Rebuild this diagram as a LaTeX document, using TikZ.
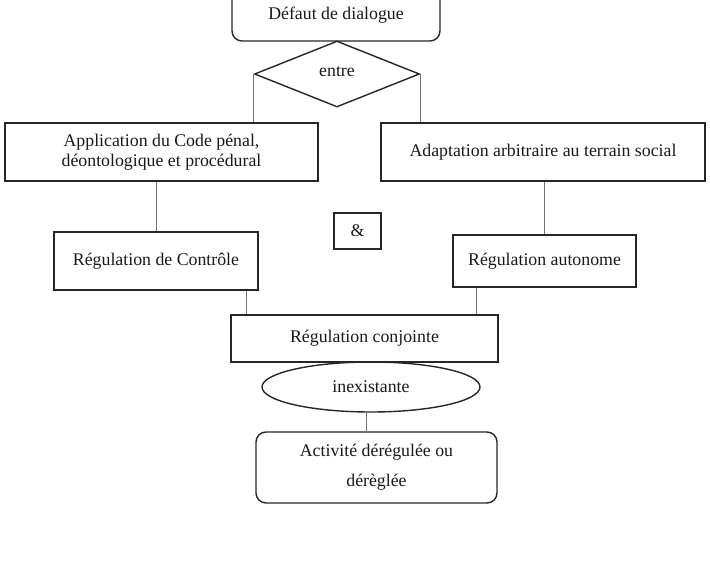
\documentclass[tikz,border=0pt]{standalone}
\usepackage{fontspec}
\setmainfont{Liberation Serif}
\usetikzlibrary{shapes.geometric}
\begin{document}
\begin{tikzpicture}[x=1pt,y=-1pt,
  every node/.style={font=\fontsize{17.8}{20}\selectfont, inner sep=0pt, text=black!90},
  box/.style={draw=black!85, line width=1.4pt, rectangle, align=center},
  rbox/.style={box, rounded corners=10pt},
  link/.style={draw=black!55, line width=1pt}
]
\useasboundingbox (0,0) rectangle (710,576);
\node[rbox, minimum width=208pt, minimum height=51pt] (top) at (336,15.5) {};
\node at (336,15) {Défaut de dialogue};
\node[draw=black!85, line width=1.4pt, diamond, aspect=2.5, minimum width=165pt, minimum height=66pt] (d) at (337,74) {};
\node at (337,72) {entre};
\node[box, minimum width=313pt, minimum height=58pt] (app) at (161.5,152) {Application du Code pénal,\\déontologique et procédural};
\node[box, minimum width=324pt, minimum height=58pt] (adapt) at (543,152) {Adaptation arbitraire au terrain social};
\node[box, minimum width=204pt, minimum height=58pt] (rc) at (156,261) {Régulation de Contrôle};
\node[box, minimum width=47pt, minimum height=36pt] (amp) at (357.5,231) {\&};
\node[box, minimum width=183pt, minimum height=52pt] (ra) at (544.5,261) {Régulation autonome};
\node[box, minimum width=267pt, minimum height=47pt] (conj) at (364.5,338.5) {Régulation conjointe};
\node[draw=black!85, line width=1.4pt, ellipse, minimum width=218pt, minimum height=50pt] (ell) at (371,387) {inexistante};
\node[rbox, minimum width=241pt, minimum height=71pt, font=\fontsize{17.8}{30}\selectfont] (act) at (376.5,467.5) {Activité dérégulée ou\\dérèglée};
\draw[link] (d.west) -- (d.west |- app.north);
\draw[link] (d.east) -- (d.east |- adapt.north);
\draw[link] (rc.north) -- (rc.north |- app.south);
\draw[link] (ra.north) -- (ra.north |- adapt.south);
\draw[link] ([xshift=-12pt]rc.south east) -- ([xshift=-12pt]rc.south east |- conj.north);
\draw[link] ([xshift=24pt]ra.south west) -- ([xshift=24pt]ra.south west |- conj.north);
\draw[link] ([xshift=-5pt]ell.south) -- ([xshift=-5pt]ell.south |- act.north);
\end{tikzpicture}
\end{document}
